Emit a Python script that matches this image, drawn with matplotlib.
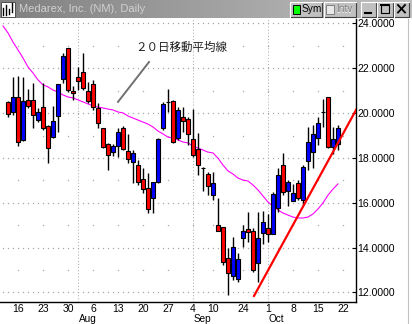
import matplotlib
matplotlib.use("Agg")

import numpy as np
import pandas as pd
import matplotlib.pyplot as plt
from matplotlib.colors import LinearSegmentedColormap
from matplotlib.patches import Rectangle
from matplotlib.ticker import FuncFormatter

plt.rcParams["font.family"] = ["Liberation Sans", "DejaVu Sans"]

# trading days (NYSE closed on Labor Day and Sep 11-14, 2001)
closed = ["2001-09-03", "2001-09-11", "2001-09-12", "2001-09-13", "2001-09-14"]
dates = pd.bdate_range("2001-07-11", "2001-10-19").drop(pd.to_datetime(closed))

nan = float("nan")
# daily OHLC, first day only carries the moving average
opens = [nan,
    20.50, 20.05, 20.72, 18.80, 20.59, 20.59, 19.69, 20.27, 19.42, 18.93, 19.87, 21.52, 22.91, 20.99,
    21.61, 21.84, 20.99, 21.30, 20.23, 19.34, 18.62, 18.26, 18.53, 19.34, 18.31, 17.82, 17.68, 17.06,
    16.66, 16.21, 16.92, 19.34, 20.50, 20.54, 18.89, 19.83, 19.74,
    18.85, 18.40, 17.55, 17.28, 16.34, 15.01, 14.92, 13.53, 12.73, 12.59, 14.43, 14.83, 14.74, 13.31, 14.65,
    14.87, 14.60, 15.76, 17.68, 16.52, 16.08, 16.88, 16.12, 17.86, 18.26, 18.89, 20.05, 20.72, 18.49, 18.62]
highs = [nan,
    20.52, 21.61, 21.66, 21.61, 21.07, 21.33, 20.23, 21.34, 19.47, 20.32, 21.30, 22.68, 22.91, 21.21,
    22.06, 22.68, 21.39, 21.48, 20.45, 19.34, 18.67, 18.62, 19.34, 19.42, 19.07, 18.35, 17.91, 17.55,
    17.33, 16.92, 18.89, 20.50, 21.08, 20.59, 20.27, 20.27, 19.83,
    20.18, 19.11, 17.60, 17.37, 17.37, 16.21, 14.92, 13.98, 14.47, 13.76, 15.01, 15.59, 14.87, 15.59, 15.63,
    15.50, 16.48, 17.55, 18.22, 17.01, 16.84, 17.01, 17.68, 19.38, 19.47, 19.83, 20.63, 20.72, 19.38, 19.47]
lows = [nan,
    19.83, 19.92, 18.53, 18.76, 20.23, 19.34, 19.60, 19.25, 17.77, 18.89, 19.16, 21.34, 20.94, 20.59,
    21.03, 21.03, 20.45, 20.14, 19.34, 18.44, 17.46, 18.09, 18.04, 18.35, 17.77, 16.88, 16.79, 16.43,
    15.54, 15.54, 16.88, 19.25, 20.05, 18.67, 18.80, 19.16, 18.58,
    18.04, 17.24, 16.52, 16.34, 16.12, 14.74, 13.22, 11.88, 12.55, 12.46, 14.02, 14.25, 12.91, 12.46, 14.16,
    14.25, 14.60, 15.59, 16.34, 15.85, 16.08, 16.12, 15.90, 17.46, 17.55, 18.58, 19.38, 18.44, 18.17, 18.35]
closes = [nan,
    19.96, 20.72, 18.71, 20.54, 20.32, 19.92, 20.05, 19.34, 18.44, 19.65, 21.30, 22.55, 21.03, 20.90,
    21.43, 21.12, 20.54, 20.27, 19.56, 18.49, 18.13, 18.53, 19.16, 18.40, 17.95, 18.22, 16.92, 16.61,
    15.72, 16.92, 18.85, 20.41, 20.50, 18.71, 20.14, 19.65, 19.07,
    18.13, 17.68, 17.55, 16.75, 16.88, 14.74, 13.35, 12.86, 14.02, 13.49, 14.74, 14.69, 12.99, 14.43, 15.14,
    14.60, 16.39, 17.24, 16.48, 16.92, 16.43, 16.21, 17.59, 18.71, 19.07, 19.56, 20.05, 18.49, 18.85, 19.34]

# 20-day moving average as drawn
ma20 = [23.89,
    23.58, 23.17, 22.82, 22.46, 22.06, 21.79, 21.48, 21.26, 21.17, 21.03, 20.94, 20.81, 20.72, 20.68,
    20.59, 20.50, 20.41, 20.32, 20.27, 20.23, 20.18, 20.14, 20.05, 20.01, 19.87, 19.78, 19.69, 19.60,
    19.51, 19.38, 19.20, 19.07, 18.93, 18.89, 18.80, 18.71, 18.67,
    18.53, 18.44, 18.35, 18.26, 18.22, 17.99, 17.68, 17.42, 17.28, 17.10, 17.01, 16.97, 16.79, 16.57, 16.30,
    16.03, 15.85, 15.68, 15.54, 15.45, 15.36, 15.32, 15.32, 15.36, 15.50, 15.72, 15.99, 16.34, 16.61, 16.84]

# hand drawn trend line and label leader (x in trading-day index)
trend_x = [50.2, 71.0]
trend_y = [11.84, 20.30]
leader_x = [23.0, 29.2]
leader_y = [20.50, 22.28]
note_x, note_y = 35.6, 22.95
note_text = "２０日移動平均線"

tick_dates = ["2001-07-16", "2001-07-23", "2001-07-30", "2001-08-06", "2001-08-13", "2001-08-20",
              "2001-08-27", "2001-09-04", "2001-09-10", "2001-09-24", "2001-10-01", "2001-10-08",
              "2001-10-15", "2001-10-22"]
tick_labels = ["16", "23", "30", "6", "13", "20", "27", "4", "10", "24", "1", "8", "15", "22"]
month_dates = ["2001-08-01", "2001-09-04", "2001-10-01"]
month_labels = ["Aug", "Sep", "Oct"]
price_ticks = [12, 14, 16, 18, 20, 22, 24]
minor_levels = [13, 15, 17, 19, 21, 23]

W, H = 412, 324


def draw_button(ax, x, y, w, h):
    ax.add_patch(Rectangle((x, y), w, h, facecolor="#c0c0c0", edgecolor="none"))
    ax.plot([x, x + w, x + w], [y + h, y + h, y], color="#404040", lw=0.8)
    ax.plot([x, x, x + w], [y + h, y, y], color="white", lw=0.8)


def draw_window(fig):
    ov = fig.add_axes([0, 0, 1, 1], zorder=10)
    ov.set_facecolor("none")
    ov.axis("off")

    cmap = LinearSegmentedColormap.from_list("bar", ["#808080", "#c0c0c0"])
    ov.imshow(np.linspace(0, 1, 256)[None, :], extent=(0, W, 18.5, 0), cmap=cmap, aspect="auto")

    # app icon
    ov.add_patch(Rectangle((1, 1.5), 14, 15, facecolor="white", edgecolor="#404040", lw=0.6))
    for xs, y0, y1 in [(3.5, 8, 15), (6, 5, 15), (9, 9, 14), (12, 3, 12)]:
        ov.plot([xs, xs], [y0, y1], color="black", lw=1.0)

    ov.text(19, 9.5, "Medarex, Inc. (NM), Daily", color="#d0d0d0", fontsize=8, va="center", ha="left")

    draw_button(ov, 290.5, 1.5, 32, 15)
    ov.add_patch(Rectangle((293, 4.5), 7.5, 9, facecolor="#00ff00", edgecolor="black", lw=0.7))
    ov.text(302, 9.5, "Sym", fontsize=7.3, va="center", ha="left", color="black")

    draw_button(ov, 324, 1.5, 32.5, 15)
    ov.add_patch(Rectangle((326.5, 4.5), 7.5, 9, facecolor="#e8e8e8", edgecolor="#808080", lw=0.7))
    ov.text(336.5, 10, "Intv", fontsize=7.3, va="center", ha="left", color="white")
    ov.text(336, 9.5, "Intv", fontsize=7.3, va="center", ha="left", color="#808080")

    for bx in [361, 377.5, 394]:
        draw_button(ov, bx, 1.5, 15.5, 15)
    ov.plot([365, 371], [13, 13], color="black", lw=1.5)
    ov.add_patch(Rectangle((381.5, 4.5), 8, 8, facecolor="none", edgecolor="black", lw=0.8))
    ov.plot([381.5, 389.5], [5, 5], color="black", lw=1.4)
    ov.plot([398, 405], [5, 12.5], color="black", lw=1.3)
    ov.plot([398, 405], [12.5, 5], color="black", lw=1.3)

    ov.plot([408.5, 408.5], [19, H], color="#c0c0c0", lw=0.8)

    ov.set_xlim(0, W)
    ov.set_ylim(H, 0)


def main():
    fig = plt.figure(figsize=(W / 100, H / 100), dpi=100)
    fig.patch.set_facecolor("white")
    ax = fig.add_axes([0, 22 / H, 355.5 / W, 283 / H])

    n = len(dates)
    idx = np.arange(n)

    # grid: dense dots at even prices, sparse dots at odd prices, month lines
    grid_pos = np.arange(0, 71)
    week_pos = [dates.searchsorted(pd.Timestamp(d)) for d in tick_dates]
    for lv in price_ticks:
        ax.plot(grid_pos, [lv] * len(grid_pos), ls="none", marker="s", ms=0.9, mew=0,
                color="#a8a8a8", zorder=0)
    for lv in minor_levels:
        ax.plot(week_pos, [lv] * len(week_pos), ls="none", marker="s", ms=0.9, mew=0,
                color="#a8a8a8", zorder=0)
    month_pos = [dates.searchsorted(pd.Timestamp(d)) for d in month_dates]
    for mp in month_pos:
        ax.axvline(mp, color="#b0b0b0", lw=0.75, ls=(0, (1, 2)), zorder=0)

    ax.plot(idx, ma20, color="#ff00ff", lw=0.8, zorder=1)

    for i in idx:
        o, h, l, c = opens[i], highs[i], lows[i], closes[i]
        if np.isnan(o):
            continue
        ax.vlines(i, l, h, color="black", lw=1.0, zorder=2)
        color = "#0000ff" if c > o else "#ff0000"
        ax.bar(i, abs(c - o), bottom=min(o, c), width=0.82, color=color,
               edgecolor="black", lw=0.8, zorder=3)

    ax.plot(trend_x, trend_y, color="#ff0000", lw=1.6, zorder=4)
    ax.plot(leader_x, leader_y, color="#707070", lw=1.4, zorder=4)
    ax.text(note_x, note_y, note_text, fontsize=8.3, ha="center", va="center", color="#202020",
            family=["Noto Sans CJK JP", "DejaVu Sans"])

    ax.set_xlim(-0.6, 70.5)
    ax.set_ylim(11.57, 24.20)

    ax.yaxis.tick_right()
    ax.set_yticks(price_ticks)
    ax.yaxis.set_major_formatter(FuncFormatter(lambda v, _: f"{v:.4f}"))
    ax.tick_params(axis="y", direction="in", length=3, width=0.8, pad=1.5, labelsize=7.5)

    ax.set_xticks(week_pos)
    ax.set_xticklabels(tick_labels)
    ax.tick_params(axis="x", length=0, pad=1.5, labelsize=7.5)
    for mp, lab in zip(month_pos, month_labels):
        ax.text(mp + 0.15, -0.069, lab, transform=ax.get_xaxis_transform(), fontsize=7.2,
                ha="left", va="baseline")

    for side in ["left", "top"]:
        ax.spines[side].set_visible(False)
    for side in ["right", "bottom"]:
        ax.spines[side].set_linewidth(1.0)

    draw_window(fig)

    fig.savefig("out.png", dpi=100)


if __name__ == "__main__":
    main()
